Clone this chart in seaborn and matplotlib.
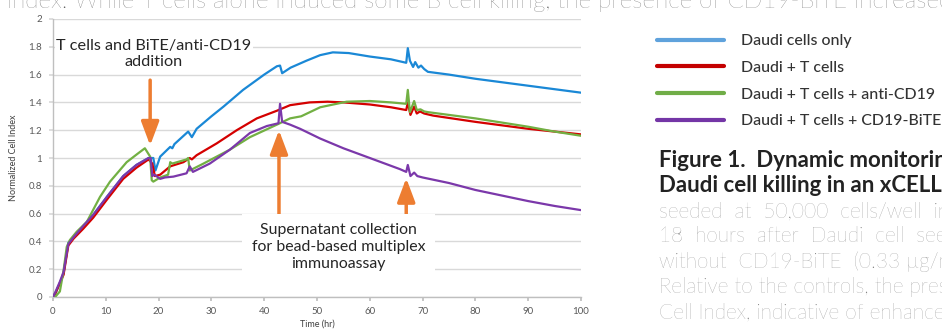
import numpy as np
import pandas as pd
import matplotlib
matplotlib.use("Agg")
import matplotlib.pyplot as plt
from matplotlib.lines import Line2D
import seaborn as sns

# series names (legend order)
conditions = ["Daudi cells only", "Daudi + T cells",
              "Daudi + T cells + anti-CD19", "Daudi + T cells + CD19-BiTE"]
line_colors = ["#1a88d6", "#d40000", "#72b043", "#7b38aa"]
legend_colors = ["#5fa2dc", "#c40000", "#70ad47", "#7436a6"]

# Daudi cells only
t_daudi = [0, 0.5, 1.3, 2, 2.9, 3.9, 5.7, 7.6, 10.2, 13.3, 15.8, 18.1, 19.0, 19.4,
           20.3, 22.2, 22.6, 23.0, 25.6, 26.3, 27.2, 30, 32.3, 36, 40, 42.4, 43.0,
           43.4, 45, 48, 50.6, 53, 56, 60, 64, 66.9, 67.2, 67.6, 68.2, 68.6, 69.2,
           69.7, 70.3, 71, 75, 80, 85, 90, 95, 100]
ci_daudi = [0, 0.03, 0.10, 0.17, 0.39, 0.43, 0.51, 0.59, 0.72, 0.87, 0.95, 1.0, 1.0, 0.91,
            1.01, 1.08, 1.07, 1.10, 1.19, 1.15, 1.21, 1.30, 1.37, 1.49, 1.60, 1.66, 1.665,
            1.61, 1.65, 1.70, 1.74, 1.76, 1.755, 1.73, 1.71, 1.685, 1.79, 1.70, 1.655, 1.69, 1.65,
            1.665, 1.64, 1.62, 1.60, 1.57, 1.545, 1.52, 1.495, 1.47]

# Daudi + T cells
t_tcell = [0, 0.5, 1.3, 2, 2.9, 3.9, 5.7, 7.6, 10.2, 13.3, 15.8, 18.1, 18.8, 19.3,
           20.3, 22.2, 24.7, 25.9, 26.3, 27.2, 31, 34.8, 38.6, 42.4, 44.9, 48.6, 52,
           55, 60, 64, 66.9, 67.2, 67.7, 68.4, 68.9, 69.5, 70.3, 72, 80, 90, 100]
ci_tcell = [0, 0.03, 0.10, 0.16, 0.37, 0.42, 0.49, 0.57, 0.70, 0.85, 0.93, 0.99, 0.96, 0.87,
            0.88, 0.94, 0.97, 1.0, 0.99, 1.02, 1.105, 1.20, 1.285, 1.34, 1.38, 1.40, 1.405,
            1.40, 1.385, 1.365, 1.345, 1.40, 1.31, 1.37, 1.32, 1.335, 1.32, 1.305, 1.26, 1.21, 1.17]

# Daudi + T cells + anti-CD19
t_anti = [0, 0.4, 1.3, 2.0, 2.6, 3.2, 4.5, 6.4, 8.9, 10.8, 13.95, 16, 17.4, 18.4, 18.7,
          19.0, 20.3, 21.8, 22.2, 22.6, 25.3, 25.6, 25.9, 28.5, 33.5, 37.3, 42.4, 44.9,
          47, 50.6, 55.6, 60, 64, 66.9, 67.2, 67.6, 68.4, 68.9, 69.6, 70.3, 71, 75, 80,
          85, 90, 95, 100]
ci_anti = [0, 0.0, 0.04, 0.19, 0.36, 0.41, 0.47, 0.54, 0.72, 0.83, 0.97, 1.03, 1.07, 1.01, 0.84,
           0.83, 0.86, 0.88, 0.97, 0.96, 0.99, 1.0, 0.91, 0.96, 1.06, 1.15, 1.24, 1.285,
           1.30, 1.365, 1.405, 1.41, 1.40, 1.39, 1.49, 1.33, 1.41, 1.345, 1.35, 1.335, 1.33, 1.31, 1.285,
           1.255, 1.225, 1.19, 1.16]

# Daudi + T cells + CD19-BiTE
t_bite = [0, 0.5, 1.3, 2, 2.9, 3.9, 5.7, 7.6, 10.2, 13.3, 15.8, 18.1, 18.5, 18.8, 19.2,
          20.3, 21.2, 22.8, 25.3, 25.9, 26.5, 29.7, 33.5, 37.3, 40.5, 42.7, 43.0, 43.4,
          44.9, 46.8, 50.6, 55, 60, 65.7, 66.9, 67.2, 67.7, 68.4, 69, 70, 75, 80, 85, 90,
          95, 100]
ci_bite = [0, 0.04, 0.11, 0.18, 0.38, 0.43, 0.51, 0.59, 0.72, 0.87, 0.95, 1.0, 1.0, 0.87, 0.88,
           0.85, 0.86, 0.866, 0.89, 0.94, 0.90, 0.96, 1.06, 1.18, 1.23, 1.25, 1.39, 1.26,
           1.24, 1.21, 1.14, 1.07, 1.00, 0.92, 0.90, 0.95, 0.87, 0.895, 0.87, 0.86, 0.82, 0.77,
           0.73, 0.69, 0.655, 0.625]

x_ticks = np.arange(0, 101, 10)
y_ticks = np.round(np.arange(0, 2.01, 0.2), 1)

df = pd.concat([
    pd.DataFrame({"Time": t_daudi, "CI": ci_daudi, "cond": conditions[0]}),
    pd.DataFrame({"Time": t_tcell, "CI": ci_tcell, "cond": conditions[1]}),
    pd.DataFrame({"Time": t_anti, "CI": ci_anti, "cond": conditions[2]}),
    pd.DataFrame({"Time": t_bite, "CI": ci_bite, "cond": conditions[3]}),
])

sns.set_theme(style="white")
plt.rcParams["font.family"] = ["Lato", "DejaVu Sans"]

fig = plt.figure(figsize=(9.42, 3.33), dpi=100)
ax = fig.add_axes([53 / 942, 36 / 333, 528 / 942, 278 / 333])

sns.lineplot(data=df, x="Time", y="CI", hue="cond", hue_order=conditions,
             palette=dict(zip(conditions, line_colors)), estimator=None,
             linewidth=1.6, legend=False, ax=ax, zorder=3)

ax.set_xlim(0, 100)
ax.set_ylim(0, 2)
ax.set_xticks(x_ticks)
ax.set_yticks(y_ticks)
ax.set_yticklabels([f"{v:g}" for v in y_ticks])
ax.grid(axis="y", color="#d9d9d9", linewidth=1)
ax.tick_params(axis="x", bottom=True, length=3, color="#bfbfbf", labelsize=7,
               labelcolor="#595959", pad=4)
ax.tick_params(axis="y", left=True, length=3, color="#d9d9d9", labelsize=7,
               labelcolor="#595959", pad=5)
for s in ["top", "right"]:
    ax.spines[s].set_visible(False)
for s in ["left", "bottom"]:
    ax.spines[s].set_color("#bfbfbf")
    ax.spines[s].set_linewidth(1)
ax.set_xlabel("Time (hr)", fontsize=6.5, color="#404040", labelpad=3)
ax.set_ylabel("Normalized Cell Index", fontsize=6.5, color="#404040", labelpad=7)

# annotations
orange = "#ed7d31"
arrow = dict(arrowstyle="-|>,head_width=0.45,head_length=1.2", color=orange,
             lw=2.5, shrinkA=0, shrinkB=0)
ax.annotate("", xy=(18.4, 1.09), xytext=(18.4, 1.56), arrowprops=arrow, zorder=4)
ax.annotate("", xy=(42.8, 1.20), xytext=(42.8, 0.575), arrowprops=arrow, zorder=4)
ax.annotate("", xy=(66.9, 0.855), xytext=(66.9, 0.57), arrowprops=arrow, zorder=4)

ax.text(19.1, 1.75, "T cells and BiTE/anti-CD19\naddition", ha="center", va="center",
        fontsize=11.7, color="#262626", linespacing=1.15, zorder=4,
        bbox=dict(facecolor="white", edgecolor="none", pad=1))
ax.text(54.1, 0.36, "Supernatant collection\nfor bead-based multiplex\nimmunoassay",
        ha="center", va="center", fontsize=11.4, color="#262626", linespacing=1.25,
        zorder=4, bbox=dict(facecolor="white", edgecolor="none", pad=7))

# legend
handles = [Line2D([], [], color=c, lw=3) for c in legend_colors]
leg = fig.legend(handles, conditions, loc="upper left",
                 bbox_to_anchor=(657 / 942, 1 - 34 / 333),
                 frameon=False, handlelength=4.2, handletextpad=1.1,
                 labelspacing=0.80, borderpad=0, borderaxespad=0,
                 prop={"weight": "medium", "size": 11.4})
for t in leg.get_texts():
    t.set_color("#333333")

# surrounding page text
fig.text(7 / 942, 1 - 8 / 333,
         "index. While T cells alone induced some B cell killing, the presence of CD19-BiTE increased",
         fontsize=17.5, color="#555555", fontweight="light", va="baseline")
fig.text(659 / 942, 1 - 160 / 333, "Figure 1.  Dynamic monitoring of",
         fontsize=16, color="#222222", fontweight="bold", va="center")
fig.text(659 / 942, 1 - 185 / 333, "Daudi cell killing in an xCELLigence",
         fontsize=16, color="#222222", fontweight="bold", va="center")
body = ["seeded  at  50,000  cells/well  in  a",
        "18  hours  after  Daudi  cell  seeding",
        "without  CD19-BiTE  (0.33 \u00b5g/mL)",
        "Relative to the controls, the presence",
        "Cell Index, indicative of enhanced"]
for i, line in enumerate(body):
    fig.text(659 / 942, 1 - (211 + 25.3 * i) / 333, line, fontsize=15, color="#7a7a7a",
             fontweight="light", va="center")

fig.savefig("out.png", dpi=100)
